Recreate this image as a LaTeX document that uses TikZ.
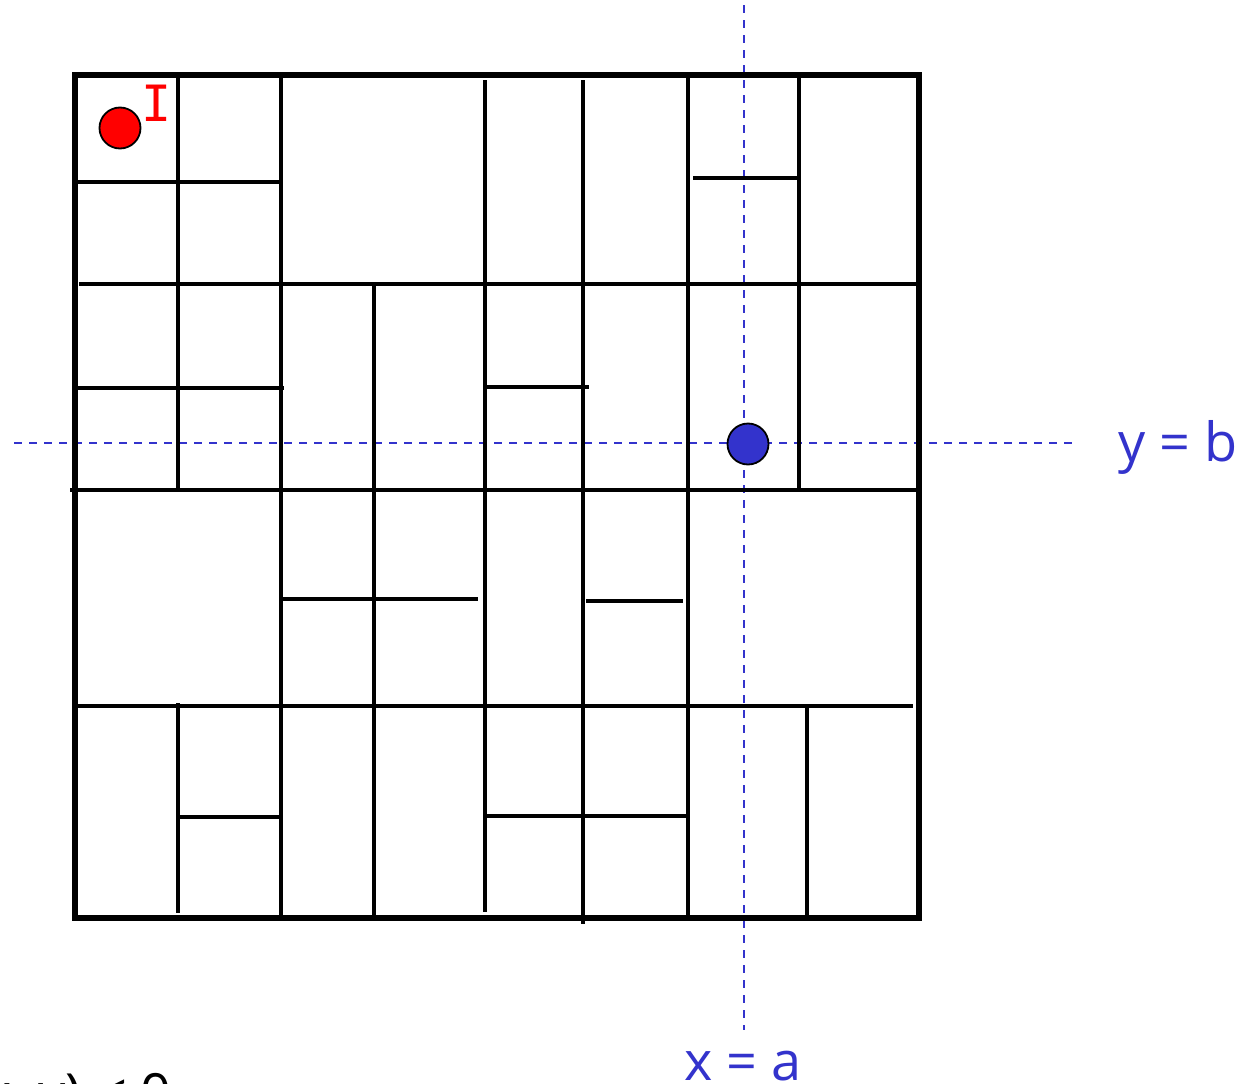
\documentclass[tikz,border=0pt]{standalone}
\usepackage{fontspec}
\setmainfont{Open Sans}
\newfontfamily\barfont{DejaVu Sans Mono}
\definecolor{axisblue}{HTML}{3333CC}
\begin{document}
\begin{tikzpicture}[x=1pt,y=-1pt,
  outer/.style={line width=6pt},
  wall/.style={line width=3.6pt},
  guide/.style={axisblue,line width=2pt,dash pattern=on 8pt off 7pt},
  dot/.style={circle,draw=black,line width=1.8pt,minimum size=41pt,inner sep=0pt},
  lbl/.style={axisblue,font=\fontsize{54}{60}\selectfont,inner sep=0pt}]
\useasboundingbox (0,0) rectangle (1254,1084);
% guides
\coordinate (gvT) at (744,5);
\coordinate (gvB) at (744,1030);
\coordinate (ghL) at (14,443);
\coordinate (ghR) at (1072,443);
\draw[guide] (gvT) -- (gvB);
\draw[guide] (ghL) -- (ghR);
% outer square
\draw[outer] (75,75) rectangle (919,918);
% full horizontals
\draw[wall] (79,284) -- (919,284);
\draw[wall] (70,490) -- (919,490);
\draw[wall] (75,706) -- (913,706);
% partial horizontals
\draw[wall] (75,182) -- (281,182);
\draw[wall] (693,178) -- (799,178);
\draw[wall] (75,388) -- (284,388);
\draw[wall] (485,387) -- (589,387);
\draw[wall] (283,599) -- (478,599);
\draw[wall] (586,601) -- (683,601);
\draw[wall] (178,817) -- (281,817);
\draw[wall] (485,816) -- (688,816);
% verticals
\draw[wall] (178,75) -- (178,490);
\draw[wall] (281,75) -- (281,918);
\draw[wall] (374,284) -- (374,918);
\draw[wall] (485,80) -- (485,912);
\draw[wall] (583,80) -- (583,924);
\draw[wall] (688,75) -- (688,918);
\draw[wall] (799,75) -- (799,490);
\draw[wall] (178,703) -- (178,913);
\draw[wall] (807,706) -- (807,916);
% dots
\node[dot,fill=red] (start) at (120,128) {};
\node[red,font=\barfont\fontsize{50}{56}\selectfont,inner sep=0pt,anchor=base] (ilabel) at (157,121) {I};
\node[dot,fill=axisblue] (target) at (748,444) {};
% labels
\node[lbl,anchor=base east] (yb) at (1238,461) {y = b};
\node[lbl,anchor=base] (xa) at (743,1080) {x = a};
\node[lbl,anchor=base east,text=black] (cond) at (172,1112) {(x, y) < 0};
\end{tikzpicture}
\end{document}
